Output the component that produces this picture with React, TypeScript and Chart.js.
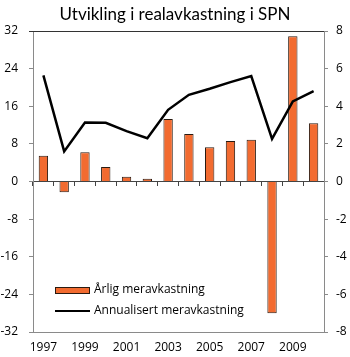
import React, { useEffect, useRef } from "react";
import { Chart, registerables } from "chart.js";

Chart.register(...registerables);

const titleText = "Utvikling i realavkastning i SPN";
const years = ["1997", "1998", "1999", "2000", "2001", "2002", "2003", "2004", "2005", "2006", "2007", "2008", "2009", "2010"];
const barLabel = "Årlig meravkastning";
const lineLabel = "Annualisert meravkastning";
const annualExcess = [5.5, -2.3, 6.2, 3.1, 1.0, 0.6, 13.3, 10.1, 7.3, 8.6, 8.9, -28.0, 30.9, 12.4];
const annualized = [5.64, 1.6, 3.13, 3.12, 2.68, 2.3, 3.81, 4.61, 4.93, 5.28, 5.6, 2.27, 4.26, 4.8];
const leftRange = [-32, 32, 8];
const rightRange = [-8, 8, 2];

const FONT = "'Open Sans', sans-serif";
const TITLE_FONT = "Lato, 'Open Sans', sans-serif";
const ORANGE = "#F26B30";

const legendPlugin = {
  id: "customLegend",
  afterDraw(chart: any) {
    const ctx = chart.ctx;
    const { left, top } = chart.chartArea;
    const ds = chart.data.datasets;
    ctx.save();
    ctx.font = `12px ${FONT}`;
    ctx.fillStyle = "#000";
    ctx.textBaseline = "middle";
    ctx.textAlign = "left";
    const x0 = left + 22;
    const y1 = top + 259;
    const y2 = top + 280;
    ctx.fillStyle = ds[0].backgroundColor;
    ctx.fillRect(x0, y1 - 3, 34, 6);
    ctx.strokeStyle = "#2a1a10";
    ctx.lineWidth = 1;
    ctx.strokeRect(x0 + 0.5, y1 - 3 + 0.5, 34, 6);
    ctx.fillStyle = "#000";
    ctx.fillText(ds[0].label, x0 + 39, y1);
    ctx.strokeStyle = ds[1].borderColor;
    ctx.lineWidth = 2;
    ctx.beginPath();
    ctx.moveTo(x0, y2);
    ctx.lineTo(x0 + 35, y2);
    ctx.stroke();
    ctx.fillText(ds[1].label, x0 + 39, y2);
    ctx.restore();
  },
};

const topLinePlugin = {
  id: "topLine",
  beforeDatasetsDraw(chart: any) {
    const ctx = chart.ctx;
    const { left, right, top } = chart.chartArea;
    ctx.save();
    ctx.strokeStyle = "#333";
    ctx.lineWidth = 1;
    ctx.beginPath();
    ctx.moveTo(left - 4, top + 0.5);
    ctx.lineTo(right, top + 0.5);
    ctx.stroke();
    ctx.restore();
  },
};

export default function App() {
  const ref = useRef<HTMLCanvasElement | null>(null);
  useEffect(() => {
    if (!ref.current) return;
    const chart = new Chart(ref.current, {
      type: "bar",
      data: {
        labels: years,
        datasets: [
          {
            type: "bar",
            label: barLabel,
            data: annualExcess,
            backgroundColor: ORANGE,
            borderColor: "#2a1a10",
            borderWidth: 1,
            barPercentage: 0.45,
            categoryPercentage: 1,
            yAxisID: "y",
            xAxisID: "x",
            order: 2,
          },
          {
            type: "line",
            label: lineLabel,
            data: annualized,
            borderColor: "#000",
            backgroundColor: "#000",
            borderWidth: 2.5,
            pointRadius: 0,
            tension: 0,
            yAxisID: "y1",
            xAxisID: "x",
            order: 1,
          },
        ],
      },
      options: {
        animation: false,
        responsive: true,
        maintainAspectRatio: false,
        layout: { padding: 0 },
        plugins: {
          legend: { display: false },
          tooltip: { enabled: false },
          title: {
            display: true,
            text: titleText,
            color: "#000",
            font: { family: TITLE_FONT, size: 17, weight: "normal" },
            padding: { top: 4, bottom: 6.6 },
          },
        },
        scales: {
          x: {
            type: "category",
            position: "bottom",
            offset: true,
            grid: { display: false, drawTicks: false },
            border: { display: true, color: "#8a8a8a", width: 1 },
            ticks: {
              autoSkip: false,
              maxRotation: 0,
              padding: 8,
              color: "#000",
              font: { family: FONT, size: 12 },
              callback: (_v: any, i: number) => (i % 2 === 0 ? years[i] : ""),
            },
            afterFit: (s: any) => {
              s.height = 25;
            },
          },
          xZero: {
            type: "category",
            axis: "x",
            position: { y: 0 },
            offset: true,
            grid: { offset: true, drawOnChartArea: false, drawTicks: true, tickLength: 4, color: "#444" },
            border: { display: true, color: "#444", width: 1 },
            ticks: { display: false },
          },
          y: {
            type: "linear",
            position: "left",
            min: leftRange[0],
            max: leftRange[1],
            ticks: {
              stepSize: leftRange[2],
              padding: 11,
              color: "#000",
              font: { family: FONT, size: 12 },
            },
            grid: { drawOnChartArea: false, tickLength: 4, color: "#8a8a8a" },
            border: { display: true, color: "#8a8a8a" },
            afterFit: (s: any) => {
              s.width = 33;
            },
          },
          y1: {
            type: "linear",
            position: "right",
            min: rightRange[0],
            max: rightRange[1],
            ticks: {
              stepSize: rightRange[2],
              padding: 8,
              color: "#000",
              font: { family: FONT, size: 12 },
            },
            grid: { drawOnChartArea: false, tickLength: 4, color: "#8a8a8a" },
            border: { display: true, color: "#8a8a8a" },
            afterFit: (s: any) => {
              s.width = 26;
            },
          },
        },
      },
      plugins: [legendPlugin, topLinePlugin],
    });
    return () => chart.destroy();
  }, []);
  return (
    <div style={{ position: "absolute", left: 0, top: 0, width: 350, height: 357 }}>
      <canvas ref={ref} />
    </div>
  );
}
